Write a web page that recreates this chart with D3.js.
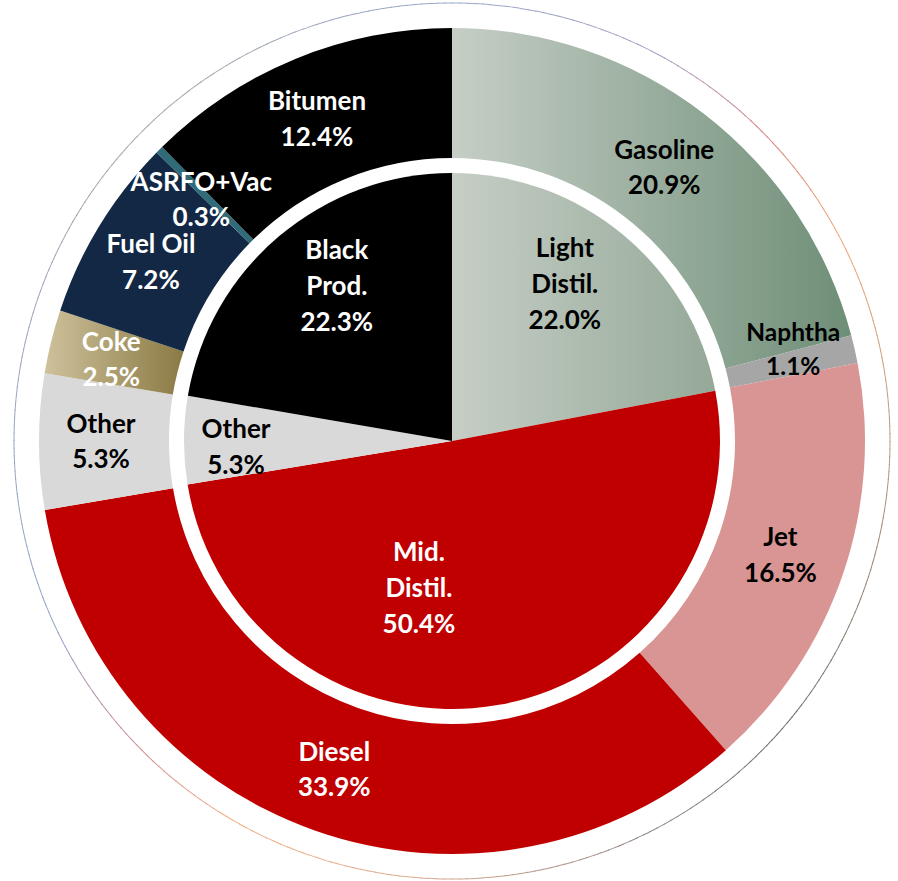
<!DOCTYPE html>
<html>
<head>
<meta charset="utf-8">
<script src="https://cdn.jsdelivr.net/npm/d3@7"></script>
<style>
  html, body { margin: 0; padding: 0; background: #ffffff; }
  svg { display: block; }
  text { font-family: Lato, "Open Sans", sans-serif; font-weight: bold; }
</style>
</head>
<body>
<svg id="chart" width="898" height="881"></svg>
<script>
// Product slate: inner ring = product groups, outer ring = individual products
const innerCategories = ["Light Distil.", "Mid. Distil.", "Other", "Black Prod."];
const innerLabelLines = [["Light", "Distil."], ["Mid.", "Distil."], ["Other"], ["Black", "Prod."]];
const innerValues = [22.0, 50.4, 5.3, 22.3];

const outerCategories = ["Gasoline", "Naphtha", "Jet", "Diesel", "Other", "Coke", "Fuel Oil", "ASRFO+Vac", "Bitumen"];
const outerValues = [20.9, 1.1, 16.5, 33.9, 5.3, 2.5, 7.2, 0.3, 12.4];

// Styling
const innerFills = ["url(#gradLight)", "#c00000", "#d9d9d9", "#000000"];
const innerText = ["#000", "#fff", "#000", "#fff"];
const outerFills = ["url(#gradGasoline)", "#a6a6a6", "#d99594", "#c00000", "#d9d9d9",
                    "url(#gradCoke)", "#132844", "#2f6b78", "#000000"];
const outerText = ["#000", "#000", "#000", "#fff", "#000", "#fff", "#fff", "#fff", "#fff"];
const outerFontSize = [26, 24.5, 26, 26, 26, 26, 26, 26, 26];
// small hand offsets applied to the computed label anchors
const innerNudge = [[-7, -12], [-66, -38], [-28, 6], [6, -11]];
const outerNudge = [[0, 2], [2, -14], [-1, 2], [-2, 0], [-3, 0], [-3, 2], [-4, 2], [-4, 4], [-3, 0]];

const cx = 452, cy = 441;
const rInner = 268, rOuterIn = 283, rOuter = 413, rFrame = 438;

const svg = d3.select("#chart");
const defs = svg.append("defs");

function hGrad(id, c0, c1) {
  const g = defs.append("linearGradient").attr("id", id)
    .attr("x1", "0%").attr("y1", "0%").attr("x2", "100%").attr("y2", "0%");
  g.append("stop").attr("offset", "0%").attr("stop-color", c0);
  g.append("stop").attr("offset", "100%").attr("stop-color", c1);
}
hGrad("gradGasoline", "#c6cec6", "#6e8e77");
hGrad("gradLight", "#c6cec6", "#95a998");
hGrad("gradCoke", "#cec19b", "#8b7a45");

const g = svg.append("g").attr("transform", `translate(${cx},${cy})`);

const pie = d3.pie().sort(null).value(d => d);
const innerArcs = pie(innerValues);
const outerArcs = pie(outerValues);

const arcInner = d3.arc().innerRadius(0).outerRadius(rInner);
const arcOuter = d3.arc().innerRadius(rOuterIn).outerRadius(rOuter);
const labelInner = d3.arc().innerRadius(188).outerRadius(188);
const labelOuter = d3.arc().innerRadius((rOuterIn + rOuter) / 2).outerRadius((rOuterIn + rOuter) / 2);

// thin multicoloured frame ring
const frameColor = d3.scaleLinear()
  .domain([0, 30, 45, 62, 90, 130, 150, 185, 210, 228, 245, 275, 315, 360])
  .range(["#8a9cc4", "#9a8fb6", "#cf6a6a", "#ee9860", "#b08a68", "#555555", "#7a7070",
          "#d8a080", "#f0a070", "#c07484", "#8494c4", "#8898b8", "#9a9a9a", "#8a9cc4"]);
const frameArc = d3.arc().innerRadius(rFrame - 0.5).outerRadius(rFrame + 0.5);
const steps = d3.range(0, 360, 1);
g.append("g").selectAll("path").data(steps).join("path")
  .attr("d", a => frameArc({ startAngle: a * Math.PI / 180, endAngle: (a + 1.1) * Math.PI / 180 }))
  .attr("fill", a => frameColor(a + 0.5))
  .attr("opacity", 0.85);

// outer ring
g.append("g").selectAll("path").data(outerArcs).join("path")
  .attr("d", arcOuter)
  .attr("fill", (d, i) => outerFills[i]);

// inner pie
g.append("g").selectAll("path").data(innerArcs).join("path")
  .attr("d", arcInner)
  .attr("fill", (d, i) => innerFills[i]);

function drawLabel(lines, x, y, size, color, lh) {
  const n = lines.length;
  const t = g.append("text")
    .attr("text-anchor", "middle")
    .attr("font-size", size)
    .attr("fill", color);
  lines.forEach((ln, k) => {
    t.append("tspan")
      .attr("x", x)
      .attr("y", y + (k - (n - 1) / 2) * lh)
      .attr("dy", "0.35em")
      .text(ln);
  });
}

outerArcs.forEach((d, i) => {
  const [x, y] = labelOuter.centroid(d);
  const lh = i === 1 ? 34 : 35.5;
  drawLabel([outerCategories[i], d.data.toFixed(1) + "%"],
    x + outerNudge[i][0], y + outerNudge[i][1], outerFontSize[i], outerText[i], lh);
});

innerArcs.forEach((d, i) => {
  const [x, y] = labelInner.centroid(d);
  drawLabel([...innerLabelLines[i], d.data.toFixed(1) + "%"],
    x + innerNudge[i][0], y + innerNudge[i][1], 26, innerText[i], 36);
});
</script>
</body>
</html>
